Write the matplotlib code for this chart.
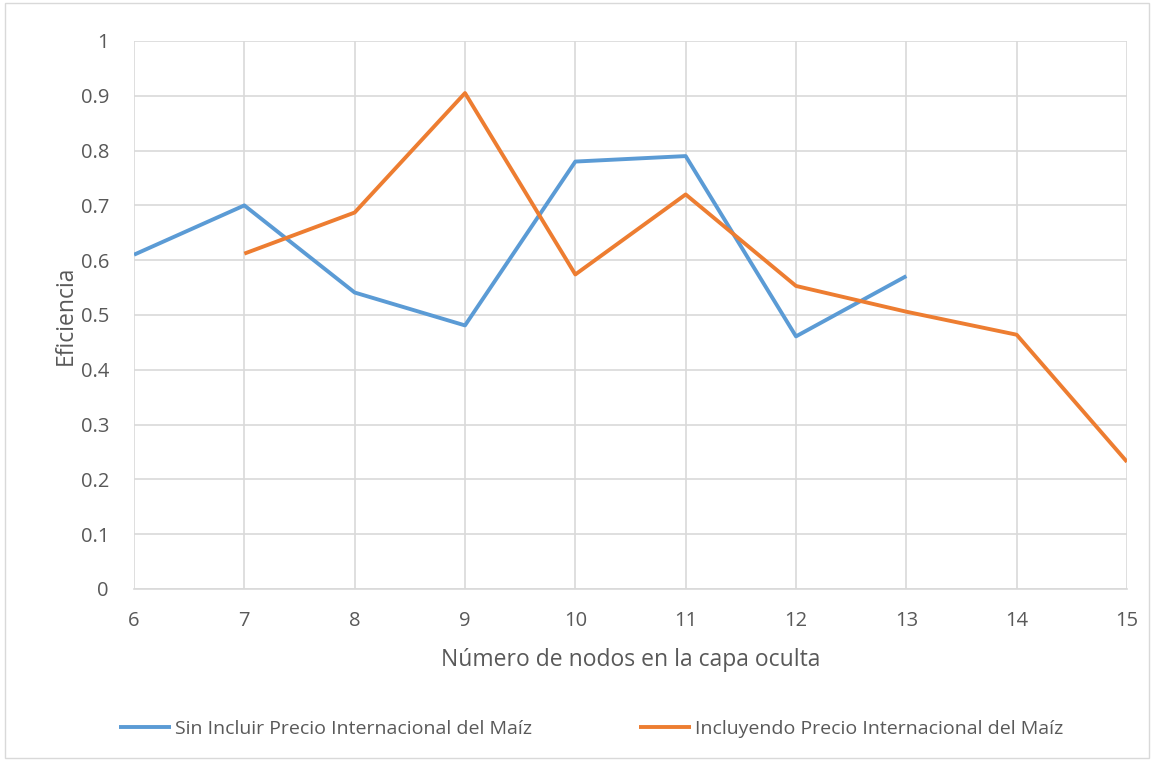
import matplotlib
matplotlib.use("Agg")
import matplotlib.pyplot as plt
from matplotlib.patches import Rectangle

# data
nodos = [6, 7, 8, 9, 10, 11, 12, 13, 14, 15]
sin_precio_x = [6, 7, 8, 9, 10, 11, 12, 13]
sin_precio = [0.61, 0.70, 0.541, 0.481, 0.78, 0.79, 0.461, 0.571]
con_precio_x = [7, 8, 9, 10, 11, 12, 13, 14, 15]
con_precio = [0.612, 0.687, 0.905, 0.574, 0.720, 0.553, 0.506, 0.464, 0.232]
y_ticks = [0, 0.1, 0.2, 0.3, 0.4, 0.5, 0.6, 0.7, 0.8, 0.9, 1]
y_labels = ["0", "0.1", "0.2", "0.3", "0.4", "0.5", "0.6", "0.7", "0.8", "0.9", "1"]

plt.rcParams["font.family"] = ["Open Sans", "DejaVu Sans"]
text_col = "#595959"

fig = plt.figure(figsize=(11.54, 7.61), dpi=100)
ax = fig.add_axes([134 / 1154, 1 - 589 / 761, (1127 - 134) / 1154, (589 - 41) / 761])

ax.plot(sin_precio_x, sin_precio, color="#5B9BD5", lw=2.8,
        label="Sin Incluir Precio Internacional del Maíz", solid_capstyle="butt")
ax.plot(con_precio_x, con_precio, color="#ED7D31", lw=2.8,
        label="Incluyendo Precio Internacional del Maíz", solid_capstyle="butt")

ax.set_xlim(6, 15)
ax.set_ylim(0, 1)
ax.set_xticks(nodos)
ax.set_yticks(y_ticks)
ax.set_yticklabels(y_labels)
ax.grid(True, color="#D9D9D9", lw=1.2)
ax.set_axisbelow(True)
for s in ["top", "right", "left"]:
    ax.spines[s].set_visible(False)
ax.spines["bottom"].set_color("#D9D9D9")
ax.spines["bottom"].set_linewidth(1.2)
ax.tick_params(length=0, labelsize=14.5, colors=text_col)
ax.tick_params(axis="x", pad=16)
ax.tick_params(axis="y", pad=18)

ax.set_xlabel("Número de nodos en la capa oculta", fontsize=16.5, color=text_col, labelpad=12)
ax.set_ylabel("Eficiencia", fontsize=16.5, color=text_col, labelpad=2)

fig.legend(loc="center", bbox_to_anchor=(591 / 1154, 1 - 729 / 761), ncol=2, frameon=False,
           fontsize=14, labelcolor=text_col, handlelength=2.7, handletextpad=0.2,
           columnspacing=5.5)

fig.patches.append(Rectangle((0.004, 0.004), 0.992, 0.992, transform=fig.transFigure,
                             fill=False, edgecolor="#D9D9D9", lw=1))

fig.savefig("out.png", dpi=100)
